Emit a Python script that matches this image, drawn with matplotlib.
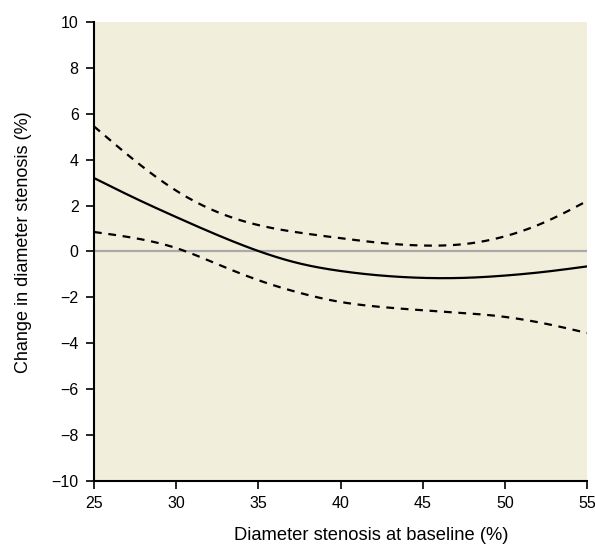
import numpy as np
import matplotlib.pyplot as plt

# Diameter stenosis at baseline (%) and fitted change with 95% CI
baseline = [25, 27.5, 30, 32.5, 35, 37.5, 40, 42.5, 45, 47.5, 50, 52.5, 55]
change = [3.2, 2.32, 1.5, 0.72, 0.02, -0.52, -0.85, -1.05, -1.15, -1.15, -1.05, -0.88, -0.65]
upper_ci = [5.45, 3.95, 2.65, 1.72, 1.15, 0.82, 0.58, 0.37, 0.26, 0.32, 0.66, 1.3, 2.2]
lower_ci = [0.85, 0.58, 0.15, -0.55, -1.25, -1.8, -2.2, -2.42, -2.56, -2.68, -2.85, -3.15, -3.55]

xs = np.linspace(25, 55, 400)


def spline(x, y, xn):
    # natural cubic spline through the points
    x = np.asarray(x, float)
    y = np.asarray(y, float)
    n = len(x)
    h = np.diff(x)
    A = np.zeros((n, n))
    b = np.zeros(n)
    A[0, 0] = A[-1, -1] = 1
    for i in range(1, n - 1):
        A[i, i - 1] = h[i - 1]
        A[i, i] = 2 * (h[i - 1] + h[i])
        A[i, i + 1] = h[i]
        b[i] = 6 * ((y[i + 1] - y[i]) / h[i] - (y[i] - y[i - 1]) / h[i - 1])
    m = np.linalg.solve(A, b)
    k = np.clip(np.searchsorted(x, xn) - 1, 0, n - 2)
    t = xn - x[k]
    hk = h[k]
    a = (m[k + 1] - m[k]) / (6 * hk)
    c = (y[k + 1] - y[k]) / hk - hk * (2 * m[k] + m[k + 1]) / 6
    return y[k] + c * t + m[k] / 2 * t ** 2 + a * t ** 3


plt.rcParams['font.family'] = ['Liberation Sans', 'DejaVu Sans']

fig = plt.figure(figsize=(5.95, 5.47), dpi=100)
ax = fig.add_axes([0.158, 0.1207, 0.8286, 0.8391])
ax.set_facecolor('#f1eedc')

ax.axhline(0, color='#aaaaaa', lw=1.6, zorder=1)
ax.plot(xs, spline(baseline, change, xs), color='black', lw=1.6, zorder=3)
ax.plot(xs, spline(baseline, upper_ci, xs), color='black', lw=1.6, ls=(0, (3.5, 3)), zorder=3)
ax.plot(xs, spline(baseline, lower_ci, xs), color='black', lw=1.6, ls=(0, (3.5, 3)), zorder=3)

ax.set_xlim(25, 55)
ax.set_ylim(-10, 10)
ax.set_xticks([25, 30, 35, 40, 45, 50, 55])
ax.set_yticks(range(-10, 11, 2))
ax.set_yticklabels([str(v).replace('-', '\u2212') for v in range(-10, 11, 2)])

for s in ['top', 'right']:
    ax.spines[s].set_visible(False)
for s in ['left', 'bottom']:
    ax.spines[s].set_linewidth(1.5)
ax.tick_params(direction='out', length=6, width=1.2, labelsize=11.5, pad=5)

ax.set_xlabel('Diameter stenosis at baseline (%)', fontsize=13.2)
ax.set_ylabel('Change in diameter stenosis (%)', fontsize=13)
ax.xaxis.set_label_coords(0.562, -0.1)
ax.yaxis.set_label_coords(-0.125, 0.521)

fig.savefig('out.png', dpi=100)
